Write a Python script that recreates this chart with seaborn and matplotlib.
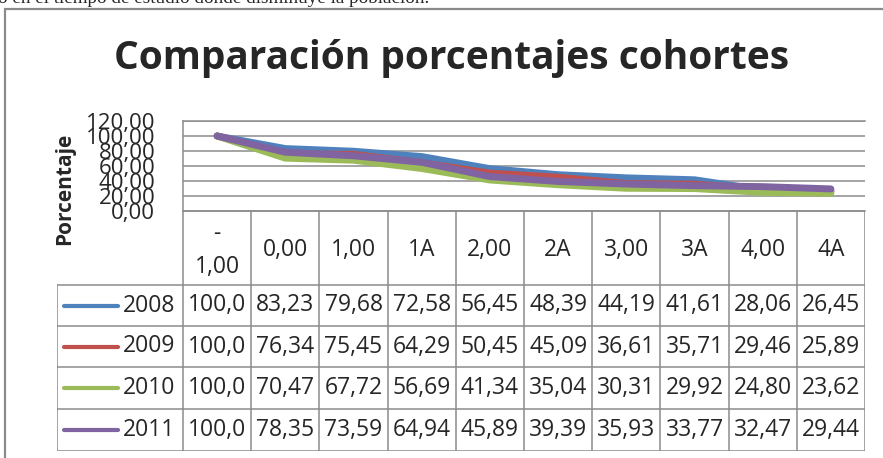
import matplotlib
matplotlib.use("Agg")
import matplotlib.pyplot as plt
import seaborn as sns
import pandas as pd
from matplotlib.patches import Rectangle

# datos de las cohortes
etapas = ["-1,00", "0,00", "1,00", "1A", "2,00", "2A", "3,00", "3A", "4,00", "4A"]
cohortes = ["2008", "2009", "2010", "2011"]
p2008 = [100.0, 83.23, 79.68, 72.58, 56.45, 48.39, 44.19, 41.61, 28.06, 26.45]
p2009 = [100.0, 76.34, 75.45, 64.29, 50.45, 45.09, 36.61, 35.71, 29.46, 25.89]
p2010 = [100.0, 70.47, 67.72, 56.69, 41.34, 35.04, 30.31, 29.92, 24.80, 23.62]
p2011 = [100.0, 78.35, 73.59, 64.94, 45.89, 39.39, 35.93, 33.77, 32.47, 29.44]
colores = ["#4F81BD", "#C0504D", "#9BBB59", "#8064A2"]

series = [p2008, p2009, p2010, p2011]
df = pd.DataFrame({
    "pos": list(range(len(etapas))) * len(cohortes),
    "cohorte": [c for c in cohortes for _ in etapas],
    "pct": [v for s in series for v in s],
})

W, H = 883, 458
sns.set_style("white")
plt.rcParams["font.family"] = ["Open Sans", "DejaVu Sans"]
gris = "#8c8c8c"
fs = 16.5


def caja(x0, y0, x1, y1):
    # caja en pixeles (origen arriba a la izquierda) -> fraccion de figura
    return [x0 / W, 1 - y1 / H, (x1 - x0) / W, (y1 - y0) / H]


def num(v):
    return f"{v:.2f}".replace(".", ",")


fig = plt.figure(figsize=(W / 100, H / 100), dpi=100)

# texto del documento cortado arriba
fig.text(-2 / W, 1 - 3 / H, "o en el tiempo de estudio donde disminuye la población.",
         family="Liberation Serif", fontsize=13.8, va="baseline", ha="left")
# borde del area del grafico
fig.add_artist(Rectangle((5 / W, -0.5), 2, 1.5 - 9 / H, transform=fig.transFigure,
                         fill=False, ec="#8a8a8a", lw=1.6, clip_on=False))

fig.text(452 / W, 1 - 69 / H, "Comparación porcentajes cohortes",
         fontsize=28, weight="bold", ha="center", va="baseline")
fig.text(65 / W, 1 - 189 / H, "Porcentaje", rotation=90, fontsize=15,
         weight="bold", ha="center", va="center")

ax = fig.add_axes(caja(183, 121, 865, 211))
sns.lineplot(data=df, x="pos", y="pct", hue="cohorte", palette=colores,
             lw=5, legend=False, sort=False, ax=ax, solid_capstyle="round")
ax.set_xlim(-0.5, len(etapas) - 0.5)
ax.set_ylim(0, 120)
ax.set_yticks(range(0, 121, 20))
ax.set_yticklabels([num(v) for v in range(0, 121, 20)])
ax.set_xticks([])
ax.set_xlabel("")
ax.set_ylabel("")
ax.tick_params(axis="y", length=0, pad=20, labelsize=16)
ax.yaxis.grid(True, color=gris, lw=1.1)
ax.set_axisbelow(True)
for lado in ["left", "top", "bottom"]:
    ax.spines[lado].set_color(gris)
    ax.spines[lado].set_linewidth(1.1)
ax.spines["right"].set_visible(False)

# tabla de datos bajo el grafico
tb = fig.add_axes(caja(57, 211, 865, 451))
xl = -0.5 - 126 / 68.2
tb.set_xlim(xl, len(etapas) - 0.5)
tb.set_ylim(240, 0)
tb.axis("off")
filas = [0, 74, 115, 156, 198, 240]
kw = dict(color=gris, lw=1.1)
tb.plot([-0.5, len(etapas) - 0.5], [0, 0], **kw)
for y in filas[1:]:
    tb.plot([xl, len(etapas) - 0.5], [y, y], **kw)
for i in range(len(etapas) + 1):
    tb.plot([i - 0.5, i - 0.5], [0, 240], **kw)
tb.plot([xl, xl], [filas[1], 240], **kw)

for i, et in enumerate(etapas):
    txt = et.replace("-", "-\n", 1) if et.startswith("-") else et
    tb.text(i, filas[1] / 2 + 2, txt, ha="center", va="center", fontsize=fs, linespacing=1.5)

for k, (c, s, col) in enumerate(zip(cohortes, series, colores)):
    ym = (filas[k + 1] + filas[k + 2]) / 2
    tb.plot([xl + 7 / 68.2, xl + 61 / 68.2], [ym, ym], color=col, lw=3,
            solid_capstyle="round")
    tb.text(-0.5 - 8 / 68.2, ym, c, ha="right", va="center", fontsize=fs)
    for i, v in enumerate(s):
        tb.text(i, ym, num(v)[:5], ha="center", va="center", fontsize=fs)

fig.savefig("out.png", dpi=100)
